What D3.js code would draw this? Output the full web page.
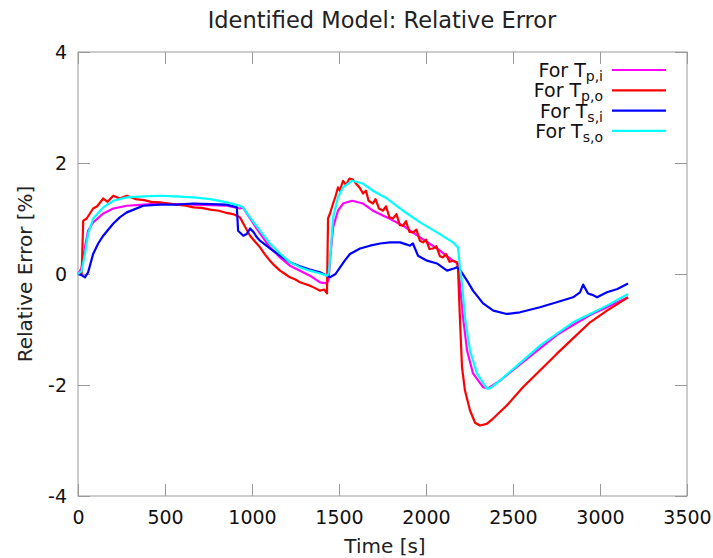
<!DOCTYPE html>
<html>
<head>
<meta charset="utf-8">
<script src="https://cdn.jsdelivr.net/npm/d3@7"></script>
<style>
  body { margin: 0; background: #fff; }
  text { font-family: 'DejaVu Sans', sans-serif; }
</style>
</head>
<body>
<div id="chart"></div>
<script>
// tick values
const xTicks = [0, 500, 1000, 1500, 2000, 2500, 3000, 3500]
const yTicks = [-4, -2, 0, 2, 4]

// relative error [%] per series, [time s, value]
const tpi = [[0,0],[20,0.1],[40,0.48],[58,0.78],[87,0.93],[145,1.09],[203,1.18],[280,1.23],[380,1.25],[471,1.27],[560,1.26],[663,1.25],[760,1.24],[855,1.23],[931,1.18],[948,1.2],[989,1.0],[1046,0.73],[1103,0.48],[1161,0.3],[1218,0.15],[1276,0.06],[1333,-0.03],[1391,-0.15],[1431,-0.17],[1440,-0.1],[1448,0.24],[1466,0.84],[1494,1.14],[1523,1.27],[1575,1.32],[1638,1.27],[1695,1.14],[1776,1.02],[1868,0.87],[1966,0.66],[2063,0.46],[2155,0.24],[2184,0.19],[2195,-0.17],[2213,-0.78],[2236,-1.38],[2270,-1.79],[2328,-2.04],[2356,-2.06],[2425,-1.92],[2557,-1.59],[2655,-1.34],[2751,-1.1],[2845,-0.92],[2943,-0.74],[3040,-0.6],[3161,-0.42]]
const tpo = [[0,0],[21,0],[30,0.96],[50,1.0],[87,1.18],[110,1.22],[145,1.36],[170,1.3],[203,1.41],[240,1.36],[280,1.41],[330,1.35],[380,1.33],[420,1.3],[471,1.29],[520,1.27],[570,1.25],[620,1.23],[663,1.2],[710,1.19],[760,1.16],[810,1.14],[855,1.1],[890,1.08],[913,1.05],[931,1.02],[960,0.85],[989,0.69],[1018,0.58],[1046,0.48],[1075,0.35],[1103,0.24],[1130,0.15],[1161,0.06],[1190,0.0],[1218,-0.06],[1250,-0.1],[1276,-0.15],[1305,-0.18],[1333,-0.21],[1360,-0.25],[1391,-0.3],[1415,-0.28],[1431,-0.35],[1437,1.0],[1448,1.09],[1466,1.27],[1480,1.4],[1494,1.56],[1505,1.5],[1523,1.68],[1540,1.6],[1560,1.72],[1580,1.7],[1600,1.62],[1620,1.55],[1638,1.45],[1655,1.5],[1670,1.32],[1695,1.27],[1710,1.35],[1730,1.18],[1753,1.14],[1770,1.22],[1790,1.02],[1810,1.0],[1830,1.08],[1850,0.88],[1868,0.87],[1885,0.95],[1905,0.76],[1925,0.75],[1945,0.8],[1965,0.6],[1983,0.57],[2000,0.62],[2020,0.45],[2040,0.46],[2060,0.5],[2080,0.32],[2098,0.3],[2115,0.36],[2135,0.22],[2155,0.24],[2178,0.21],[2184,0.1],[2195,-0.8],[2207,-1.68],[2224,-2.1],[2253,-2.46],[2282,-2.68],[2310,-2.73],[2349,-2.7],[2387,-2.6],[2464,-2.37],[2557,-2.04],[2655,-1.74],[2751,-1.44],[2845,-1.16],[2943,-0.87],[3040,-0.66],[3161,-0.42]]
const tsi = [[0,0],[20,-0.02],[40,-0.06],[58,0.03],[87,0.36],[116,0.55],[145,0.69],[203,0.91],[240,1.02],[280,1.11],[320,1.16],[375,1.23],[471,1.25],[560,1.25],[663,1.27],[760,1.26],[855,1.25],[913,1.2],[920,0.78],[950,0.69],[970,0.72],[989,0.82],[1010,0.75],[1028,0.66],[1046,0.6],[1103,0.46],[1161,0.33],[1218,0.21],[1276,0.14],[1333,0.08],[1391,0.03],[1431,-0.03],[1448,-0.06],[1480,0.0],[1506,0.12],[1535,0.25],[1563,0.36],[1621,0.46],[1678,0.51],[1736,0.55],[1793,0.57],[1851,0.57],[1890,0.53],[1908,0.51],[1925,0.55],[1954,0.33],[2006,0.24],[2063,0.19],[2121,0.06],[2160,0.1],[2178,0.12],[2200,0.05],[2236,-0.12],[2270,-0.3],[2328,-0.53],[2387,-0.66],[2464,-0.72],[2540,-0.69],[2655,-0.6],[2751,-0.51],[2845,-0.42],[2885,-0.33],[2903,-0.19],[2931,-0.35],[2960,-0.38],[2983,-0.42],[3040,-0.33],[3100,-0.27],[3161,-0.17]]
const tso = [[0,0],[20,0.05],[40,0.36],[58,0.72],[87,1.0],[145,1.2],[203,1.32],[280,1.38],[380,1.4],[471,1.41],[560,1.4],[663,1.38],[760,1.35],[855,1.29],[931,1.23],[948,1.2],[989,1.02],[1046,0.78],[1103,0.55],[1161,0.37],[1218,0.21],[1276,0.12],[1333,0.06],[1391,0.01],[1431,-0.03],[1440,0.0],[1448,0.24],[1466,1.02],[1494,1.38],[1523,1.56],[1575,1.68],[1638,1.63],[1695,1.5],[1776,1.36],[1868,1.14],[1966,0.93],[2063,0.75],[2155,0.57],[2184,0.48],[2195,0.12],[2207,-0.17],[2224,-0.78],[2253,-1.38],[2293,-1.79],[2349,-2.06],[2368,-2.06],[2425,-1.92],[2557,-1.56],[2655,-1.29],[2751,-1.08],[2845,-0.87],[2943,-0.72],[3040,-0.57],[3161,-0.36]]

const series = [
  { name: 'p,i', data: tpi, color: '#ff00ff' },
  { name: 'p,o', data: tpo, color: '#ff0000' },
  { name: 's,i', data: tsi, color: '#0000ff' },
  { name: 's,o', data: tso, color: '#00ffff' }
]

const width = 713
const height = 558
const mLeft = 78, mRight = 687, mTop = 52, mBottom = 496

const svg = d3.select('#chart').append('svg').attr('width', width).attr('height', height)

// 比例尺
const x = d3.scaleLinear().domain([0, 3500]).range([mLeft, mRight])
const y = d3.scaleLinear().domain([-4, 4]).range([mBottom, mTop])

// 标题和坐标轴标题
svg.append('text').attr('x', 382).attr('y', 28).attr('text-anchor', 'middle')
  .attr('font-size', 22.5).attr('fill', '#222').text('Identified Model: Relative Error')
svg.append('text').attr('x', 385).attr('y', 553).attr('text-anchor', 'middle')
  .attr('font-size', 20).attr('fill', '#222').text('Time [s]')
svg.append('text').attr('transform', 'translate(32,274) rotate(-90)').attr('text-anchor', 'middle')
  .attr('font-size', 20).attr('fill', '#222').text('Relative Error [%]')

// 坐标轴 (刻度朝内)
const tk = 12
const fmt = d => String(d)
const gx = svg.append('g').attr('transform', 'translate(0,' + mBottom + ')')
  .call(d3.axisBottom(x).tickValues(xTicks).tickSizeInner(-tk).tickSizeOuter(0).tickPadding(15).tickFormat(fmt))
const gx2 = svg.append('g').attr('transform', 'translate(0,' + mTop + ')')
  .call(d3.axisTop(x).tickValues(xTicks).tickSizeInner(-tk).tickSizeOuter(0).tickFormat(''))
const gy = svg.append('g').attr('transform', 'translate(' + mLeft + ',0)')
  .call(d3.axisLeft(y).tickValues(yTicks).tickSizeInner(-tk).tickSizeOuter(0).tickPadding(11).tickFormat(fmt))
const gy2 = svg.append('g').attr('transform', 'translate(' + mRight + ',0)')
  .call(d3.axisRight(y).tickValues(yTicks).tickSizeInner(-tk).tickSizeOuter(0).tickFormat(''))

;[gx, gx2, gy, gy2].forEach(g => {
  g.select('.domain').remove()
  g.selectAll('line').attr('stroke', '#999')
  g.selectAll('text').attr('font-size', 19).attr('fill', '#111').attr('font-family', 'DejaVu Sans, sans-serif')
})

svg.append('rect').attr('x', mLeft).attr('y', mTop).attr('width', mRight - mLeft).attr('height', mBottom - mTop)
  .attr('fill', 'none').attr('stroke', '#999').attr('stroke-width', 1)

// 曲线
const line = d3.line().x(d => x(d[0])).y(d => y(d[1]))
series.forEach(s => {
  svg.append('path').datum(s.data).attr('d', line)
    .attr('fill', 'none').attr('stroke', s.color).attr('stroke-width', 2.2)
    .attr('stroke-linejoin', 'round')
})

// 图例
const lg = svg.append('g')
series.forEach((s, i) => {
  const ly = 70 + i * 20.3
  const t = lg.append('text').attr('x', 603).attr('y', ly + 7).attr('text-anchor', 'end')
    .attr('font-size', 19).attr('fill', '#111')
  t.append('tspan').text('For T')
  t.append('tspan').attr('font-size', 14).attr('dy', 4).text(s.name)
  lg.append('line').attr('x1', 612).attr('x2', 666).attr('y1', ly).attr('y2', ly)
    .attr('stroke', s.color).attr('stroke-width', 2.2)
})
</script>
</body>
</html>
